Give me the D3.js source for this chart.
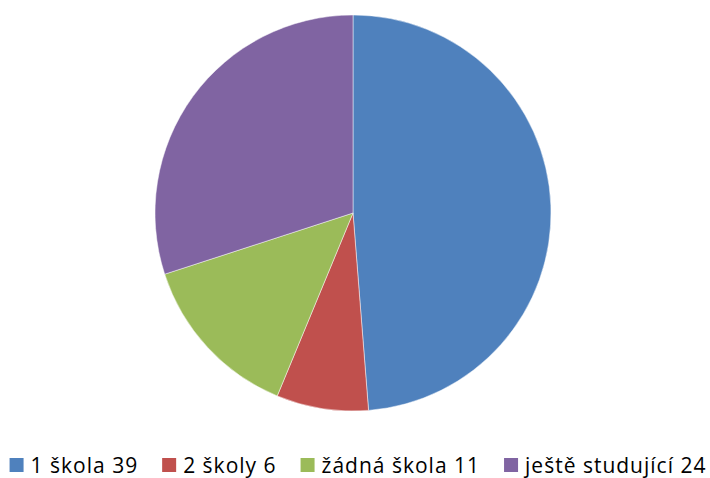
<!DOCTYPE html>
<html><head><meta charset="utf-8">
<script src="https://cdn.jsdelivr.net/npm/d3@7"></script>
<style>body{margin:0;background:#fff}svg{display:block}</style>
</head><body>
<script>
const categories = ["1 škola 39", "2 školy 6", "žádná škola 11", "ještě studující 24"];
const values = [39, 6, 11, 24];
const colors = ["#4F81BD", "#C0504D", "#9BBB59", "#8064A2"];

const W = 710, H = 478;
const svg = d3.select("body").append("svg").attr("width", W).attr("height", H);
const cx = 353, cy = 213, r = 198;

const pie = d3.pie().sort(null).value(d => d)(values);
const arc = d3.arc().innerRadius(0).outerRadius(r);
svg.append("g").attr("transform", `translate(${cx},${cy})`)
  .selectAll("path").data(pie).join("path")
  .attr("d", arc).attr("fill", (d, i) => colors[i])
  .attr("stroke", "#fff").attr("stroke-width", 0.8).attr("stroke-opacity", 0.6);

const lg = svg.append("g").attr("font-family", "'Open Sans', 'Noto Sans', sans-serif")
  .attr("font-size", 21).attr("letter-spacing", 1).attr("fill", "#000");
const items = lg.selectAll("g").data(categories).join("g");
items.append("rect").attr("width", 14).attr("height", 14).attr("y", -15).attr("fill", (d, i) => colors[i]);
items.append("text").attr("x", 21).attr("y", 0).text(d => d);
const widths = [];
items.each(function () { widths.push(21 + d3.select(this).select("text").node().getComputedTextLength()); });
const gap = 24;
const total = d3.sum(widths) + gap * (widths.length - 1);
let start = 358 - total / 2;
items.attr("transform", (d, i) => { const t = `translate(${start},473)`; start += widths[i] + gap; return t; });
</script>
</body></html>
